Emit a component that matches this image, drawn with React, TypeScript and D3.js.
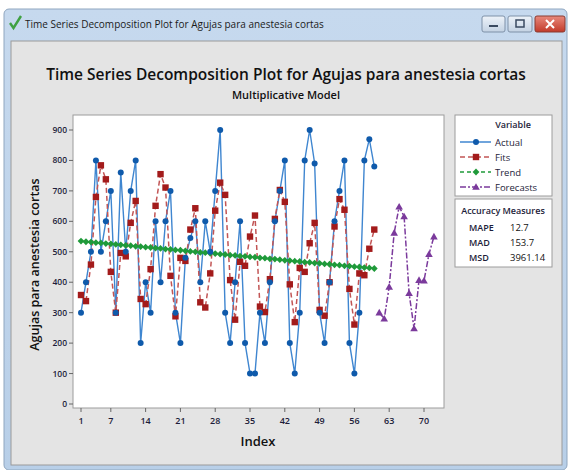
import React from "react";
import * as d3 from "d3";

// values
const actual = [
  300, 400, 500, 800, 500, 600, 700, 300, 760, 500,
  700, 800, 200, 400, 300, 600, 400, 600, 700, 300,
  200, 480, 545, 600, 400, 600, 500, 700, 900, 300,
  200, 400, 600, 200, 100, 100, 300, 200, 400, 600,
  700, 800, 200, 100, 300, 800, 900, 790, 300, 200,
  400, 600, 700, 800, 200, 100, 300, 800, 870, 780,
];
const fits = [
  358, 338, 458, 680, 784, 738, 434, 300, 496, 485, 595, 667,
  345, 328, 443, 651, 755, 711, 421, 288, 480, 470, 573, 643,
  334, 317, 429, 635, 727, 687, 407, 277, 467, 454, 550, 619,
  320, 302, 410, 608, 703, 664, 393, 269, 447, 434, 528, 595,
  309, 290, 400, 583, 673, 638, 378, 261, 429, 423, 510, 573,
];
const trend = [
  535, 533, 532, 530, 529, 527, 526, 524, 523, 521,
  520, 518, 517, 515, 514, 512, 511, 509, 508, 506,
  505, 503, 501, 500, 498, 497, 495, 494, 492, 491,
  489, 488, 486, 485, 483, 482, 480, 479, 477, 476,
  474, 472, 471, 469, 468, 466, 465, 463, 462, 460,
  459, 457, 456, 454, 453, 451, 450, 448, 447, 445,
];
const forecasts = [300, 280, 385, 562, 648, 616, 364, 248, 407, 405, 492, 550];
const forecastStart = 61;

const xTicks = [1, 7, 14, 21, 28, 35, 42, 49, 56, 63, 70];
const yTicks = [0, 100, 200, 300, 400, 500, 600, 700, 800, 900];

const accuracy = [
  { name: "MAPE", value: "12.7" },
  { name: "MAD", value: "153.7" },
  { name: "MSD", value: "3961.14" },
];

const BLUE = "#0f5aab";
const BLUE_LINE = "#3f86d0";
const RED = "#a31b1b";
const RED_LINE = "#c25555";
const GREEN = "#1f9a3a";
const PURPLE = "#7b3a9c";
const FONT = "'Open Sans', 'Noto Sans', sans-serif";

const plot = { left: 73, right: 444, top: 115, bottom: 408 };

function diamond(cx: number, cy: number, r: number) {
  return `M${cx},${cy - r}L${cx + r},${cy}L${cx},${cy + r}L${cx - r},${cy}Z`;
}
function triangle(cx: number, cy: number, r: number) {
  return `M${cx},${cy - r}L${cx + r},${cy + r * 0.75}L${cx - r},${cy + r * 0.75}Z`;
}

export default function App() {
  const x = d3.scaleLinear().domain([1, 70]).range([81, 424]);
  const y = d3.scaleLinear().domain([0, 900]).range([404, 130]);

  const pts = (vals: number[], start: number) =>
    vals.map((v, i) => [x(start + i), y(v)] as [number, number]);

  const line = d3.line<[number, number]>();
  const actualPts = pts(actual, 1);
  const fitsPts = pts(fits, 1);
  const trendPts = pts(trend, 1);
  const fcPts = pts(forecasts, forecastStart);

  const legendItems = [
    { label: "Actual", color: BLUE, lineColor: BLUE_LINE, dash: "", shape: "circle" },
    { label: "Fits", color: RED, lineColor: RED_LINE, dash: "5,3", shape: "square" },
    { label: "Trend", color: GREEN, lineColor: GREEN, dash: "4,3", shape: "diamond" },
    { label: "Forecasts", color: PURPLE, lineColor: PURPLE, dash: "6,2,2,2", shape: "triangle" },
  ];

  const marker = (shape: string, cx: number, cy: number, color: string, k: number) => {
    if (shape === "circle") return <circle key={k} cx={cx} cy={cy} r={3} fill={color} />;
    if (shape === "square")
      return <rect key={k} x={cx - 3.2} y={cy - 3.2} width={6.4} height={6.4} fill={color} />;
    if (shape === "diamond") return <path key={k} d={diamond(cx, cy, 3.4)} fill={color} />;
    return <path key={k} d={triangle(cx, cy, 3.8)} fill={color} />;
  };

  return (
    <svg
      width={571}
      height={470}
      style={{ position: "absolute", left: 0, top: 0, fontFamily: FONT }}
    >
      <defs>
        <linearGradient id="frame" x1="0" y1="0" x2="0" y2="1">
          <stop offset="0" stopColor="#c6d9ee" />
          <stop offset="1" stopColor="#b8cfe8" />
        </linearGradient>
        <linearGradient id="btn" x1="0" y1="0" x2="0" y2="1">
          <stop offset="0" stopColor="#eef3f9" />
          <stop offset="1" stopColor="#c3d2e3" />
        </linearGradient>
        <linearGradient id="close" x1="0" y1="0" x2="0" y2="1">
          <stop offset="0" stopColor="#e8897c" />
          <stop offset="1" stopColor="#c23a2a" />
        </linearGradient>
      </defs>
      <rect width={571} height={470} fill="#ffffff" />

      {/* window chrome */}
      <rect x={4} y={9} width={563} height={461} rx={5} fill="url(#frame)" stroke="#8fa6bf" />
      <path d="M10,23 L13.5,28 L21,16" fill="none" stroke="#3fa142" strokeWidth={2.4} />
      <text x={25} y={28} fontSize={10} fill="#1b1b1b">
        Time Series Decomposition Plot for Agujas para anestesia cortas
      </text>
      <rect x={482} y={16} width={23} height={16} rx={2} fill="url(#btn)" stroke="#7f91a8" />
      <rect x={489} y={25} width={9} height={2} fill="#3a4a60" />
      <rect x={508} y={16} width={24} height={16} rx={2} fill="url(#btn)" stroke="#7f91a8" />
      <rect x={516} y={20} width={8} height={7} fill="none" stroke="#3a4a60" strokeWidth={1.5} />
      <rect x={535} y={16} width={30} height={16} rx={2} fill="url(#close)" stroke="#8a3a30" />
      <path d="M546,20 L554,28 M554,20 L546,28" stroke="#ffffff" strokeWidth={2} />

      {/* graph region */}
      <rect x={11} y={41} width={551} height={424} fill="#e4e4e4" stroke="#9a9a9a" />

      <text x={286} y={80} textAnchor="middle" fontSize={15.5} fontWeight={600} fill="#111">
        Time Series Decomposition Plot for Agujas para anestesia cortas
      </text>
      <text x={286} y={99} textAnchor="middle" fontSize={11} fontWeight={600} fill="#111">
        Multiplicative Model
      </text>

      {/* plot area */}
      <rect
        x={plot.left}
        y={plot.top}
        width={plot.right - plot.left}
        height={plot.bottom - plot.top}
        fill="#ffffff"
        stroke="#9c9c9c"
      />

      {yTicks.map((t) => (
        <g key={t}>
          <line x1={plot.left - 4} x2={plot.left} y1={y(t)} y2={y(t)} stroke="#666" />
          <text x={plot.left - 6} y={y(t) + 3} textAnchor="end" fontSize={8.5} fill="#1d1d3a" fontWeight={600}>
            {t}
          </text>
        </g>
      ))}
      {xTicks.map((t) => (
        <g key={t}>
          <line x1={x(t)} x2={x(t)} y1={plot.bottom} y2={plot.bottom + 4} stroke="#666" />
          <text x={x(t)} y={plot.bottom + 16} textAnchor="middle" fontSize={9} fill="#1d1d3a" fontWeight={600}>
            {t}
          </text>
        </g>
      ))}
      <text x={258} y={446} textAnchor="middle" fontSize={13} fontWeight={600} fill="#111">
        Index
      </text>
      <text
        transform={`translate(39,${(plot.top + plot.bottom) / 2 + 3}) rotate(-90)`}
        textAnchor="middle"
        fontSize={12.5}
        fontWeight={600}
        fill="#111"
      >
        Agujas para anestesia cortas
      </text>

      {/* series */}
      <path d={line(actualPts) || ""} fill="none" stroke={BLUE_LINE} strokeWidth={1.4} />
      <path d={line(fitsPts) || ""} fill="none" stroke={RED_LINE} strokeWidth={1.5} strokeDasharray="5,3" />
      <path d={line(trendPts) || ""} fill="none" stroke={GREEN} strokeWidth={1.4} strokeDasharray="4,3" />
      <path d={line(fcPts) || ""} fill="none" stroke={PURPLE} strokeWidth={1.5} strokeDasharray="6,2,2,2" />

      {trendPts.map(([cx, cy], i) => marker("diamond", cx, cy, GREEN, i))}
      {fitsPts.map(([cx, cy], i) => marker("square", cx, cy, RED, i))}
      {actualPts.map(([cx, cy], i) => marker("circle", cx, cy, BLUE, i))}
      {fcPts.map(([cx, cy], i) => marker("triangle", cx, cy, PURPLE, i))}

      {/* legend */}
      <rect x={455} y={115} width={97} height={81} fill="#ffffff" stroke="#9c9c9c" />
      <text x={513} y={128} textAnchor="middle" fontSize={9} fontWeight={600} fill="#1d1d3a">
        Variable
      </text>
      {legendItems.map((d, i) => {
        const ly = 142 + i * 15;
        return (
          <g key={d.label}>
            <line x1={460} x2={491} y1={ly} y2={ly} stroke={d.lineColor} strokeWidth={1.5} strokeDasharray={d.dash} />
            {marker(d.shape, 476, ly, d.color, i)}
            <text x={495} y={ly + 3.5} fontSize={9.5} fill="#1d1d3a">
              {d.label}
            </text>
          </g>
        );
      })}

      <rect x={455} y={199} width={97} height={68} fill="#ffffff" stroke="#9c9c9c" />
      <text x={503} y={214} textAnchor="middle" fontSize={9} fontWeight={600} fill="#1d1d3a">
        Accuracy Measures
      </text>
      {accuracy.map((d, i) => (
        <g key={d.name}>
          <text x={469} y={231 + i * 15} fontSize={9} fontWeight={600} fill="#1d1d3a">
            {d.name}
          </text>
          <text x={510} y={231 + i * 15} fontSize={9.5} fill="#111">
            {d.value}
          </text>
        </g>
      ))}
    </svg>
  );
}
